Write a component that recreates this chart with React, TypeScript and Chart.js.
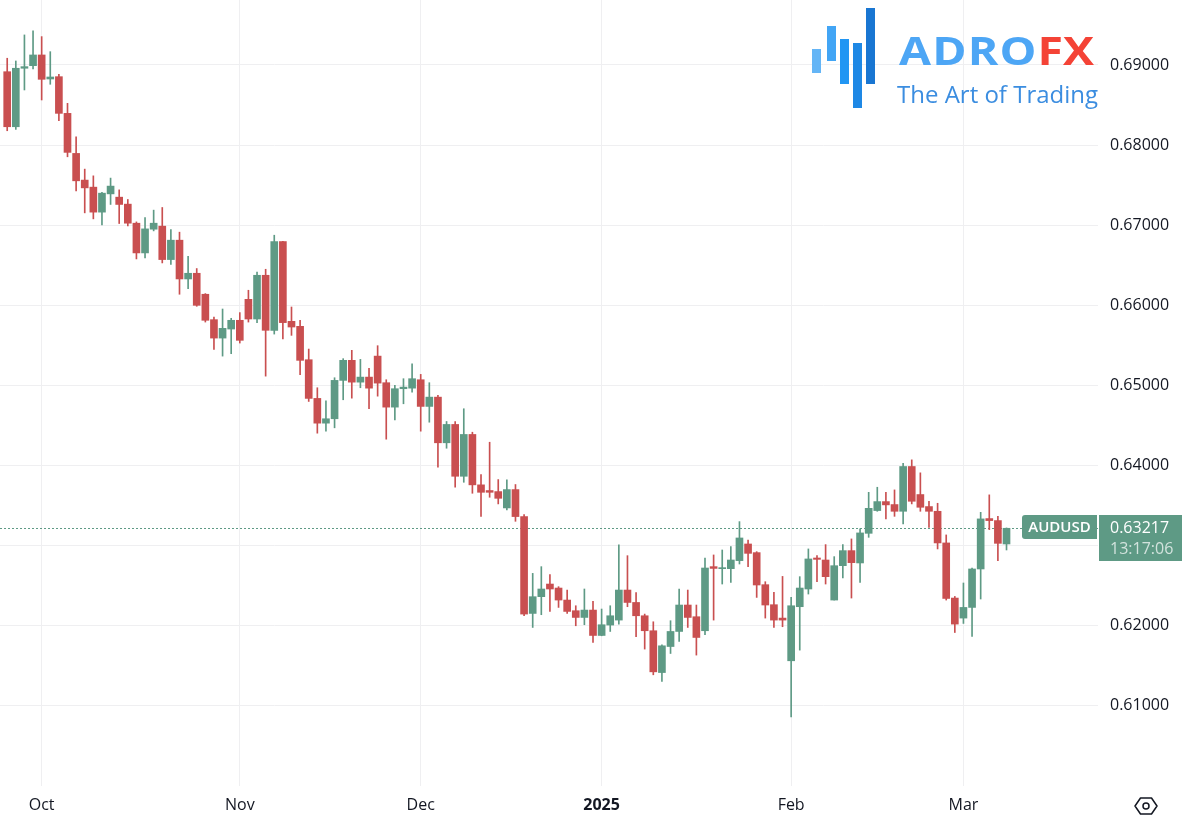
import React, { useEffect, useRef } from 'react';
import { Chart, registerables } from 'chart.js';

Chart.register(...registerables);

// ---------- DATA ----------
const dates: string[] = [
  '2024-09-25', '2024-09-26', '2024-09-27', '2024-09-30',
  '2024-10-01', '2024-10-02', '2024-10-03', '2024-10-04', '2024-10-07', '2024-10-08', '2024-10-09', '2024-10-10',
  '2024-10-11', '2024-10-14', '2024-10-15', '2024-10-16', '2024-10-17', '2024-10-18', '2024-10-21', '2024-10-22',
  '2024-10-23', '2024-10-24', '2024-10-25', '2024-10-28', '2024-10-29', '2024-10-30', '2024-10-31',
  '2024-11-01', '2024-11-04', '2024-11-05', '2024-11-06', '2024-11-07', '2024-11-08', '2024-11-11', '2024-11-12',
  '2024-11-13', '2024-11-14', '2024-11-15', '2024-11-18', '2024-11-19', '2024-11-20', '2024-11-21', '2024-11-22',
  '2024-11-25', '2024-11-26', '2024-11-27', '2024-11-28', '2024-11-29',
  '2024-12-02', '2024-12-03', '2024-12-04', '2024-12-05', '2024-12-06', '2024-12-09', '2024-12-10', '2024-12-11',
  '2024-12-12', '2024-12-13', '2024-12-16', '2024-12-17', '2024-12-18', '2024-12-19', '2024-12-20', '2024-12-23',
  '2024-12-24', '2024-12-26', '2024-12-27', '2024-12-30', '2024-12-31',
  '2025-01-02', '2025-01-03', '2025-01-06', '2025-01-07', '2025-01-08', '2025-01-09', '2025-01-10', '2025-01-13',
  '2025-01-14', '2025-01-15', '2025-01-16', '2025-01-17', '2025-01-20', '2025-01-21', '2025-01-22', '2025-01-23',
  '2025-01-24', '2025-01-27', '2025-01-28', '2025-01-29', '2025-01-30', '2025-01-31',
  '2025-02-03', '2025-02-04', '2025-02-05', '2025-02-06', '2025-02-07', '2025-02-10', '2025-02-11', '2025-02-12',
  '2025-02-13', '2025-02-14', '2025-02-17', '2025-02-18', '2025-02-19', '2025-02-20', '2025-02-21', '2025-02-24',
  '2025-02-25', '2025-02-26', '2025-02-27', '2025-02-28',
  '2025-03-03', '2025-03-04', '2025-03-05', '2025-03-06', '2025-03-07', '2025-03-10',
];

const opens: number[] = [
  0.68916, 0.68229, 0.68959, 0.68991, 0.69125, 0.68825, 0.68854, 0.68396, 0.67896, 0.67563,
  0.67475, 0.67163, 0.67391, 0.67350, 0.67263, 0.67025, 0.66654, 0.66950, 0.66988, 0.66571,
  0.66813, 0.66329, 0.66400, 0.66138, 0.65821, 0.65591, 0.65704, 0.65813, 0.66075, 0.65829,
  0.66375, 0.65688, 0.66796, 0.65800, 0.65738, 0.65321, 0.64838, 0.64529, 0.64584, 0.65063,
  0.65313, 0.65041, 0.65104, 0.65366, 0.65034, 0.64729, 0.64959, 0.64966, 0.65071, 0.64738,
  0.64854, 0.64284, 0.64513, 0.63866, 0.64388, 0.63759, 0.63688, 0.63675, 0.63471, 0.63700,
  0.63363, 0.62154, 0.62363, 0.62521, 0.62471, 0.62321, 0.62188, 0.62104, 0.62196, 0.61879,
  0.62009, 0.62071, 0.62446, 0.62291, 0.62125, 0.61938, 0.61416, 0.61741, 0.61929, 0.62259,
  0.62113, 0.61938, 0.62738, 0.62713, 0.62713, 0.62813, 0.63021, 0.62913, 0.62513, 0.62263,
  0.62096, 0.61563, 0.62238, 0.62459, 0.62846, 0.62821, 0.62321, 0.62750, 0.62938, 0.62784,
  0.63154, 0.63438, 0.63550, 0.63513, 0.63429, 0.63988, 0.63638, 0.63488, 0.63429, 0.63034,
  0.62346, 0.62096, 0.62229, 0.62709, 0.63338, 0.63313, 0.63021,
];

const highs: number[] = [
  0.69084, 0.69050, 0.69375, 0.69425, 0.69354, 0.69166, 0.68884, 0.68521, 0.68104, 0.67700,
  0.67616, 0.67409, 0.67588, 0.67441, 0.67321, 0.67041, 0.67096, 0.67188, 0.67221, 0.66946,
  0.66913, 0.66613, 0.66459, 0.66146, 0.65854, 0.65954, 0.65838, 0.65909, 0.66188, 0.66416,
  0.66450, 0.66875, 0.66800, 0.65979, 0.65813, 0.65454, 0.64971, 0.64809, 0.65096, 0.65334,
  0.65438, 0.65325, 0.65213, 0.65496, 0.65071, 0.65000, 0.65084, 0.65271, 0.65138, 0.65034,
  0.64875, 0.64550, 0.64550, 0.64709, 0.64416, 0.63888, 0.64291, 0.63825, 0.63821, 0.63763,
  0.63388, 0.62654, 0.62738, 0.62638, 0.62488, 0.62446, 0.62250, 0.62459, 0.62304, 0.62209,
  0.62250, 0.63009, 0.62875, 0.62413, 0.62146, 0.62050, 0.61763, 0.62063, 0.62459, 0.62446,
  0.62259, 0.62846, 0.62884, 0.62946, 0.62988, 0.63300, 0.63071, 0.62925, 0.62550, 0.62416,
  0.62616, 0.62354, 0.62613, 0.62959, 0.62875, 0.63013, 0.62863, 0.63013, 0.63084, 0.63209,
  0.63666, 0.63729, 0.63666, 0.63696, 0.64029, 0.64071, 0.63909, 0.63554, 0.63529, 0.63134,
  0.62366, 0.62534, 0.62721, 0.63416, 0.63634, 0.63366, 0.63221,
];

const lows: number[] = [
  0.68179, 0.68196, 0.68688, 0.68950, 0.68563, 0.68759, 0.68304, 0.67854, 0.67429, 0.67154,
  0.67079, 0.67004, 0.67259, 0.67021, 0.66991, 0.66579, 0.66591, 0.66929, 0.66529, 0.66509,
  0.66138, 0.66209, 0.65988, 0.65791, 0.65450, 0.65366, 0.65396, 0.65529, 0.65791, 0.65784,
  0.65116, 0.65641, 0.65579, 0.65625, 0.65134, 0.64800, 0.64404, 0.64429, 0.64471, 0.64821,
  0.64841, 0.64971, 0.64709, 0.64866, 0.64329, 0.64571, 0.64771, 0.64916, 0.64429, 0.64541,
  0.63979, 0.64216, 0.63729, 0.63791, 0.63654, 0.63366, 0.63604, 0.63521, 0.63446, 0.63304,
  0.62125, 0.61979, 0.62138, 0.62179, 0.62229, 0.62154, 0.62000, 0.62013, 0.61791, 0.61875,
  0.61929, 0.62021, 0.62238, 0.61863, 0.61709, 0.61388, 0.61304, 0.61654, 0.61804, 0.61979,
  0.61634, 0.61888, 0.62071, 0.62521, 0.62541, 0.62771, 0.62738, 0.62354, 0.62096, 0.61979,
  0.61988, 0.60863, 0.61696, 0.62396, 0.62550, 0.62521, 0.62321, 0.62596, 0.62346, 0.62541,
  0.63104, 0.63429, 0.63334, 0.63366, 0.63271, 0.63521, 0.63429, 0.63229, 0.62959, 0.62321,
  0.61916, 0.62029, 0.61866, 0.62334, 0.63200, 0.62813, 0.62946,
];

const closes: number[] = [
  0.68229, 0.68959, 0.68979, 0.69125, 0.68821, 0.68850, 0.68396, 0.67909, 0.67554, 0.67466,
  0.67163, 0.67400, 0.67488, 0.67259, 0.67025, 0.66654, 0.66954, 0.67025, 0.66571, 0.66813,
  0.66329, 0.66400, 0.66000, 0.65813, 0.65591, 0.65713, 0.65813, 0.65563, 0.65829, 0.66375,
  0.65688, 0.66796, 0.65784, 0.65729, 0.65313, 0.64838, 0.64529, 0.64584, 0.65063, 0.65313,
  0.65041, 0.65104, 0.64966, 0.65029, 0.64729, 0.64959, 0.64979, 0.65084, 0.64738, 0.64854,
  0.64284, 0.64513, 0.63866, 0.64388, 0.63759, 0.63666, 0.63666, 0.63591, 0.63700, 0.63363,
  0.62146, 0.62363, 0.62459, 0.62459, 0.62321, 0.62179, 0.62104, 0.62196, 0.61879, 0.62013,
  0.62125, 0.62446, 0.62291, 0.62125, 0.61938, 0.61425, 0.61750, 0.61929, 0.62259, 0.62104,
  0.61854, 0.62721, 0.62716, 0.62725, 0.62821, 0.63096, 0.62904, 0.62509, 0.62259, 0.62071,
  0.62071, 0.62250, 0.62471, 0.62834, 0.62829, 0.62613, 0.62750, 0.62938, 0.62788, 0.63159,
  0.63466, 0.63550, 0.63509, 0.63429, 0.63988, 0.63554, 0.63479, 0.63429, 0.63034, 0.62341,
  0.62021, 0.62229, 0.62709, 0.63334, 0.63313, 0.63029, 0.63217,
];

const priceTicks: number[] = [0.61, 0.62, 0.63, 0.64, 0.65, 0.66, 0.67, 0.68, 0.69];
const monthNames: string[] = ['Jan', 'Feb', 'Mar', 'Apr', 'May', 'Jun', 'Jul', 'Aug', 'Sep', 'Oct', 'Nov', 'Dec'];
const symbolName = 'AUDUSD';
const lastPriceText = '0.63217';
const countdownText = '13:17:06';

// ---------- STYLE ----------
const GREEN = '#5e9a85';
const RED = '#c94f50';
const GRID = '#efeff1';
const TEXT = '#131722';
const FONT = '"Open Sans", "DejaVu Sans", sans-serif';

function monthStarts() {
  const idx: number[] = [];
  const labels: string[] = [];
  for (let i = 1; i < dates.length; i++) {
    if (dates[i].slice(0, 7) !== dates[i - 1].slice(0, 7)) {
      const mo = Number(dates[i].slice(5, 7));
      idx.push(i);
      labels.push(mo === 1 ? dates[i].slice(0, 4) : monthNames[mo - 1]);
    }
  }
  return { idx, labels };
}

export default function App() {
  const ref = useRef<HTMLCanvasElement | null>(null);

  useEffect(() => {
    const canvas = ref.current;
    if (!canvas) return;
    const ms = monthStarts();
    const yearIdx = ms.labels.findIndex((l) => /^\d{4}$/.test(l));
    const colors = closes.map((c, i) => (c >= opens[i] ? GREEN : RED));
    const bodies = closes.map((c, i) => ({ x: i, y: [opens[i], c] }));
    const wicks = closes.map((_, i) => ({ x: i, y: [lows[i], highs[i]] }));
    const lastClose = closes[closes.length - 1];
    const lastColor = colors[colors.length - 1];

    const priceLine = {
      id: 'priceLine',
      beforeDatasetsDraw(chart: any) {
        const { ctx, chartArea, scales } = chart;
        const py = Math.round(scales.y.getPixelForValue(lastClose)) + 0.5;
        ctx.save();
        ctx.strokeStyle = lastColor;
        ctx.lineWidth = 1;
        ctx.setLineDash([2, 2]);
        ctx.beginPath();
        ctx.moveTo(chartArea.left, py);
        ctx.lineTo(chartArea.right, py);
        ctx.stroke();
        ctx.restore();
      },
      afterDraw(chart: any) {
        const { ctx, chartArea, scales } = chart;
        const py = Math.round(scales.y.getPixelForValue(lastClose));
        ctx.save();
        ctx.fillStyle = lastColor;
        ctx.beginPath();
        const sx = chartArea.right - 76;
        if ((ctx as any).roundRect) (ctx as any).roundRect(sx, py - 13, 75, 24, [3, 0, 0, 3]);
        else ctx.rect(sx, py - 13, 75, 24);
        ctx.fill();
        ctx.fillStyle = '#ffffff';
        ctx.font = `600 15px ${FONT}`;
        ctx.textBaseline = 'middle';
        ctx.textAlign = 'center';
        ctx.fillText(symbolName, sx + 37.5, py);
        ctx.fillStyle = lastColor;
        ctx.fillRect(chartArea.right + 1, py - 13, 83, 46);
        ctx.fillStyle = '#ffffff';
        ctx.textAlign = 'left';
        ctx.font = `16px ${FONT}`;
        ctx.fillText(lastPriceText, chartArea.right + 12, py);
        ctx.fillStyle = 'rgba(255,255,255,0.72)';
        ctx.fillText(countdownText, chartArea.right + 12, py + 21);
        ctx.restore();
      },
    };

    const chart = new Chart(canvas, {
      type: 'bar',
      data: {
        datasets: [
          {
            label: 'body',
            data: bodies as any,
            backgroundColor: colors,
            barThickness: 7,
            minBarLength: 1,
            grouped: false,
            order: 0,
          } as any,
          {
            label: 'wick',
            data: wicks as any,
            backgroundColor: colors,
            barThickness: 1,
            grouped: false,
            order: 1,
          } as any,
        ],
      },
      options: {
        animation: false,
        responsive: false,
        maintainAspectRatio: false,
        events: [],
        layout: { padding: 0 },
        plugins: { legend: { display: false }, tooltip: { enabled: false } },
        scales: {
          x: {
            type: 'linear',
            min: -0.836,
            max: 126.62,
            offset: false,
            border: { display: false },
            grid: { color: GRID, drawTicks: false, offset: false },
            afterBuildTicks: (s: any) => {
              s.ticks = ms.idx.map((v) => ({ value: v }));
            },
            afterFit: (s: any) => {
              s.height = 36;
              s.paddingLeft = 0;
              s.paddingRight = 0;
            },
            ticks: {
              autoSkip: false,
              maxRotation: 0,
              minRotation: 0,
              padding: 10,
              color: TEXT,
              font: (c: any) => ({ family: FONT, size: 16, weight: c.index === yearIdx ? 'bold' : 'normal' }),
              callback: (_v: any, i: number) => ms.labels[i],
            },
          },
          y: {
            type: 'linear',
            position: 'right',
            min: 0.6,
            max: 0.69811,
            border: { display: false },
            grid: { color: GRID, drawTicks: false },
            afterBuildTicks: (s: any) => {
              s.ticks = priceTicks.map((v) => ({ value: v }));
            },
            afterFit: (s: any) => {
              s.width = 88;
              s.paddingTop = 0;
              s.paddingBottom = 0;
            },
            ticks: {
              padding: 12,
              color: TEXT,
              font: { family: FONT, size: 16 },
              callback: (v: any) => Number(v).toFixed(5),
            },
          },
        },
      } as any,
      plugins: [priceLine],
    });
    return () => chart.destroy();
  }, []);

  const bars = [
    { l: 812, t: 49, h: 24, c: '#64b5f6' },
    { l: 827, t: 26, h: 35, c: '#42a5f5' },
    { l: 840, t: 39, h: 45, c: '#2196f3' },
    { l: 853, t: 43, h: 65, c: '#1e88e5' },
    { l: 866, t: 8, h: 76, c: '#1976d2' },
  ];

  return (
    <div style={{ position: 'fixed', left: 0, top: 0, width: 1186, height: 822, background: '#ffffff', overflow: 'hidden' }}>
      <canvas ref={ref} width={1186} height={822} style={{ position: 'absolute', left: 0, top: 0, width: 1186, height: 822 }} />
      {bars.map((b, i) => (
        <div key={i} style={{ position: 'absolute', left: b.l, top: b.t, width: 9, height: b.h, background: b.c }} />
      ))}
      <div
        style={{
          position: 'absolute',
          left: 899,
          top: 29.5,
          fontFamily: FONT,
          fontWeight: 700,
          fontSize: 40,
          lineHeight: '40px',
          color: '#4da6f5',
          whiteSpace: 'nowrap',
          transform: 'scaleX(1.16)',
          transformOrigin: '0 0',
        }}
      >
        <span style={{ letterSpacing: 1 }}>ADRO</span>
        <span style={{ color: '#f44336', letterSpacing: 0 }}>FX</span>
      </div>
      <div
        style={{
          position: 'absolute',
          left: 897,
          top: 81.7,
          fontFamily: FONT,
          fontWeight: 400,
          fontSize: 24,
          lineHeight: '24px',
          color: '#3b8de0',
          whiteSpace: 'nowrap',
        }}
      >
        The Art of Trading
      </div>
      <svg style={{ position: 'absolute', left: 1133, top: 796 }} width={26} height={22} viewBox="0 0 26 22">
        <polygon points="2,10 7.5,2 18.5,2 24,10 18.5,18 7.5,18" fill="none" stroke={TEXT} strokeWidth={1.5} strokeLinejoin="round" />
        <circle cx={13} cy={10} r={3} fill="none" stroke={TEXT} strokeWidth={1.5} />
      </svg>
    </div>
  );
}
